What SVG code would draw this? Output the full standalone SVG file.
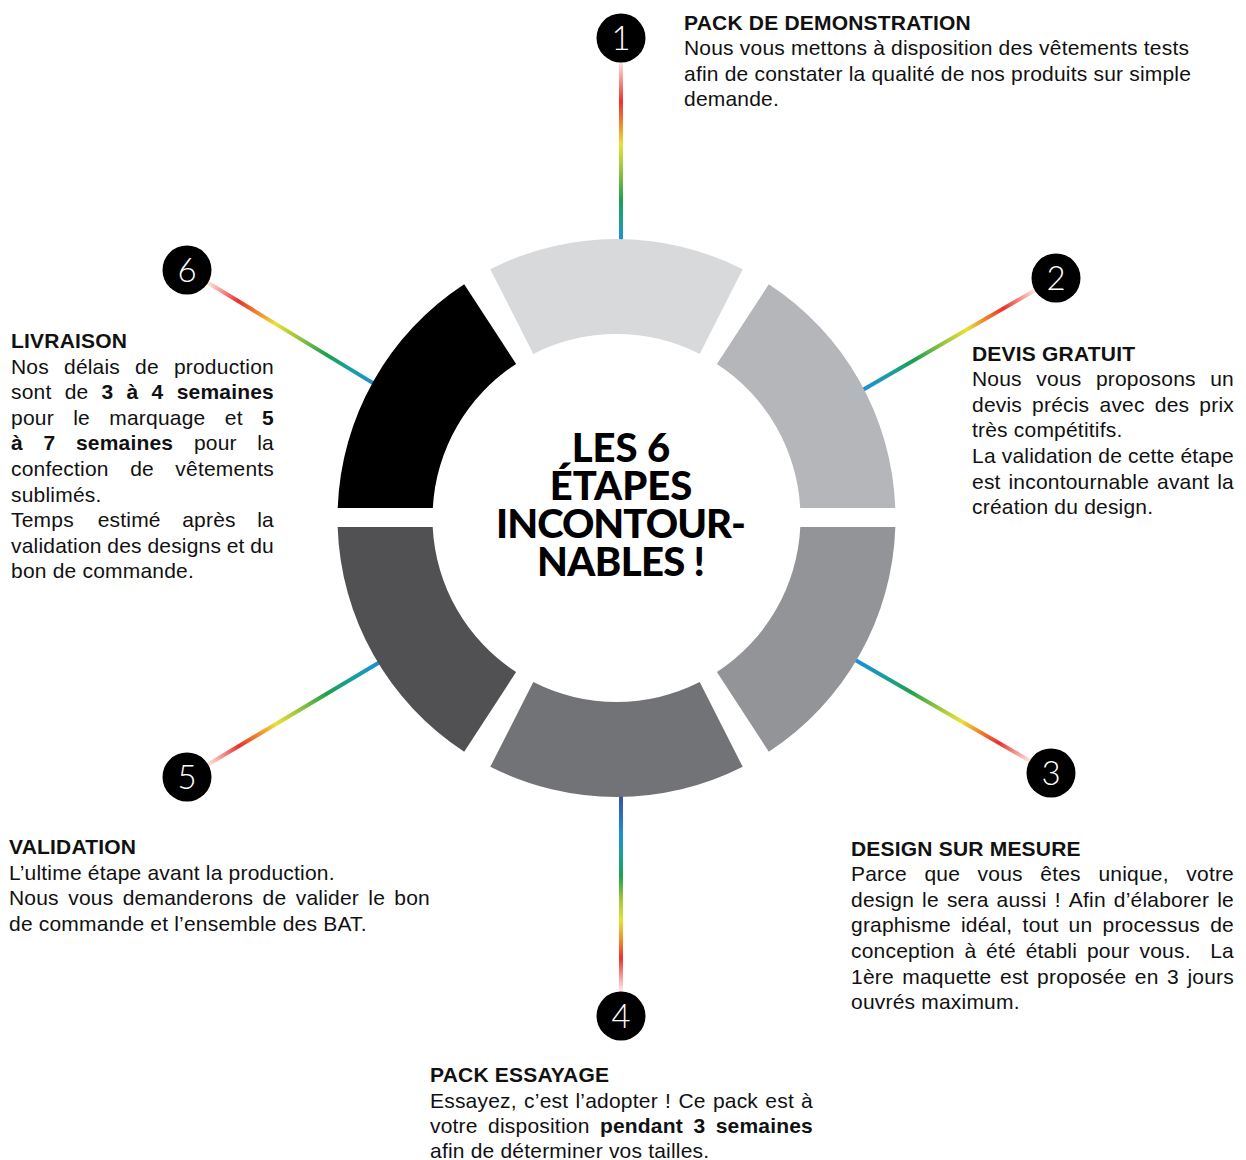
<svg xmlns="http://www.w3.org/2000/svg" width="1246" height="1160" viewBox="0 0 1246 1160">
<defs>
<style>
.h{font-family:'Liberation Sans',Arial,sans-serif;font-size:21px;font-weight:bold;letter-spacing:0.2px;fill:#111}
.b{font-family:'Liberation Sans',Arial,sans-serif;font-size:21px;letter-spacing:0.2px;fill:#111}
.e{text-anchor:end}
.k{font-weight:bold}
.num{font-family:Lato,Roboto,'Liberation Sans',sans-serif;font-weight:300;font-size:33px;fill:#fff;text-anchor:middle}
.dot{fill:#000}
.ttl{font-family:Lato,'Liberation Sans',sans-serif;font-weight:900;font-size:40px;fill:#000;text-anchor:middle}
.ln{fill:none;stroke-width:4}
</style>
<linearGradient id="gA" gradientUnits="userSpaceOnUse" x1="0" y1="0" x2="220" y2="0">
<stop offset="0" stop-color="#fde8e2"/>
<stop offset="0.115" stop-color="#fde3dc"/>
<stop offset="0.273" stop-color="#e8322e"/>
<stop offset="0.38" stop-color="#f1892c"/>
<stop offset="0.47" stop-color="#e7e236"/>
<stop offset="0.59" stop-color="#9bc53f"/>
<stop offset="0.74" stop-color="#1ea04e"/>
<stop offset="0.86" stop-color="#18a097"/>
<stop offset="1" stop-color="#1e8fd6"/>
</linearGradient>
<linearGradient id="gB" gradientUnits="userSpaceOnUse" x1="0" y1="0" x2="205" y2="0">
<stop offset="0" stop-color="#fde8e2"/>
<stop offset="0.12" stop-color="#fde3dc"/>
<stop offset="0.31" stop-color="#e8322e"/>
<stop offset="0.42" stop-color="#f1892c"/>
<stop offset="0.52" stop-color="#e7e236"/>
<stop offset="0.64" stop-color="#9bc53f"/>
<stop offset="0.79" stop-color="#1ea04e"/>
<stop offset="0.89" stop-color="#18a097"/>
<stop offset="1" stop-color="#1e8fd6"/>
</linearGradient>
<linearGradient id="gC" gradientUnits="userSpaceOnUse" x1="0" y1="0" x2="222" y2="0">
<stop offset="0" stop-color="#fde8e2"/>
<stop offset="0.12" stop-color="#fde3dc"/>
<stop offset="0.26" stop-color="#e8322e"/>
<stop offset="0.34" stop-color="#f1892c"/>
<stop offset="0.43" stop-color="#e7e236"/>
<stop offset="0.53" stop-color="#9bc53f"/>
<stop offset="0.63" stop-color="#1ea04e"/>
<stop offset="0.72" stop-color="#18a097"/>
<stop offset="0.82" stop-color="#1e8fd6"/>
<stop offset="1" stop-color="#3a4c9f"/>
</linearGradient>
</defs>
<rect width="1246" height="1160" fill="#fff"/>

<g id="connectors">
<g transform="translate(621,38) rotate(90)"><line class="ln" x1="0" y1="0" x2="207" y2="0" stroke="url(#gB)"/></g>
<g transform="translate(1056,278) rotate(149.9)"><line class="ln" x1="0" y1="0" x2="232" y2="0" stroke="url(#gA)"/></g>
<g transform="translate(1051,773) rotate(210)"><line class="ln" x1="0" y1="0" x2="232" y2="0" stroke="url(#gA)"/></g>
<g transform="translate(621,1016) rotate(-90)"><line class="ln" x1="0" y1="0" x2="224" y2="0" stroke="url(#gC)"/></g>
<g transform="translate(187,777) rotate(-30.8)"><line class="ln" x1="0" y1="0" x2="230" y2="0" stroke="url(#gA)"/></g>
<g transform="translate(187,270) rotate(31.3)"><line class="ln" x1="0" y1="0" x2="226" y2="0" stroke="url(#gA)"/></g>
</g>

<g id="ring">
<path id="seg1" fill="#d8d9db" d="M490.3,269.2 A279,279 0 0 1 742.7,269.2 L699.7,353.9 A184,184 0 0 0 533.3,353.9 Z"/>
<path id="seg2" fill="#b5b6b9" d="M768.8,284.3 A279,279 0 0 1 895.3,508 L800.2,508 A184,184 0 0 0 716.9,363.9 Z"/>
<path id="seg3" fill="#939497" d="M895.35,527 A279,279 0 0 1 768.8,751.7 L716.9,672.1 A184,184 0 0 0 800.3,527 Z"/>
<path id="seg4" fill="#727376" d="M742.7,766.8 A279,279 0 0 1 490.3,766.8 L533.3,682.1 A184,184 0 0 0 699.7,682.1 Z"/>
<path id="seg5" fill="#515153" d="M464.2,751.7 A279,279 0 0 1 337.65,527 L432.7,527 A184,184 0 0 0 516.1,672.1 Z"/>
<path id="seg6" fill="#000000" d="M337.7,508 A279,279 0 0 1 464.2,284.3 L516.1,363.9 A184,184 0 0 0 432.8,508 Z"/>
</g>

<g id="center">
<text class="ttl" x="621" y="462">LES 6</text>
<text class="ttl" x="621" y="500">ÉTAPES</text>
<text class="ttl" x="621" y="538" textLength="250" lengthAdjust="spacing">INCONTOUR-</text>
<text class="ttl" x="621" y="576" textLength="168" lengthAdjust="spacing">NABLES !</text>
</g>

<g id="node1">
<circle class="dot" cx="621" cy="38" r="24.5"/>
<text class="num" x="621" y="50">1</text>
<text class="h" x="684" y="29.5">PACK DE DEMONSTRATION</text>
<text class="b" x="684" y="55">Nous vous mettons à disposition des vêtements tests</text>
<text class="b" x="684" y="80.6">afin de constater la qualité de nos produits sur simple</text>
<text class="b" x="684" y="106.2">demande.</text>
</g>

<g id="node2">
<circle class="dot" cx="1056" cy="278" r="24.5"/>
<text class="num" x="1056" y="290">2</text>
<text class="h" x="972" y="360.5">DEVIS GRATUIT</text>
<text class="b" y="386.1"><tspan x="972">Nous</tspan><tspan x="1036.3">vous</tspan><tspan x="1095.9">proposons</tspan></text>
<text class="b e" x="1234" y="386.1">un</text>
<text class="b" y="411.7"><tspan x="972">devis</tspan><tspan x="1032.1">précis</tspan><tspan x="1099.5">avec</tspan><tspan x="1154.8">des</tspan></text>
<text class="b e" x="1234" y="411.7">prix</text>
<text class="b" x="972" y="437.3">très compétitifs.</text>
<text class="b" y="462.9"><tspan x="972">La</tspan><tspan x="1001.7">validation</tspan><tspan x="1098.3">de</tspan><tspan x="1128">cette</tspan></text>
<text class="b e" x="1234" y="462.9">étape</text>
<text class="b" y="488.5"><tspan x="972">est</tspan><tspan x="1008.5">incontournable</tspan><tspan x="1157">avant</tspan></text>
<text class="b e" x="1234" y="488.5">la</text>
<text class="b" x="972" y="514.1">création du design.</text>
</g>

<g id="node3">
<circle class="dot" cx="1051" cy="773" r="24.5"/>
<text class="num" x="1051" y="785">3</text>
<text class="h" x="851" y="855.5">DESIGN SUR MESURE</text>
<text class="b" y="881.1"><tspan x="851">Parce</tspan><tspan x="924.4">que</tspan><tspan x="977.6">vous</tspan><tspan x="1040.3">êtes</tspan><tspan x="1098.4">unique,</tspan></text>
<text class="b e" x="1234" y="881.1">votre</text>
<text class="b" y="906.7"><tspan x="851">design</tspan><tspan x="922.1">le</tspan><tspan x="946.9">sera</tspan><tspan x="996.6">aussi</tspan><tspan x="1054.7">!</tspan><tspan x="1068.8">Afin</tspan><tspan x="1113.8">d’élaborer</tspan></text>
<text class="b e" x="1234" y="906.7">le</text>
<text class="b" y="932.3"><tspan x="851">graphisme</tspan><tspan x="961">idéal,</tspan><tspan x="1022.6">tout</tspan><tspan x="1068.6">un</tspan><tspan x="1102.5">processus</tspan></text>
<text class="b e" x="1234" y="932.3">de</text>
<text class="b" y="957.9"><tspan x="851">conception</tspan><tspan x="964.4">à</tspan><tspan x="986.1">été</tspan><tspan x="1025.7">établi</tspan><tspan x="1086.9">pour</tspan><tspan x="1139.5">vous.</tspan></text>
<text class="b e" x="1234" y="957.9">La</text>
<text class="b" y="983.5"><tspan x="851">1ère</tspan><tspan x="902.3">maquette</tspan><tspan x="1000">est</tspan><tspan x="1037.1">proposée</tspan><tspan x="1134.8">en</tspan><tspan x="1167.1">3</tspan></text>
<text class="b e" x="1234" y="983.5">jours</text>
<text class="b" x="851" y="1009.1">ouvrés maximum.</text>
</g>

<g id="node4">
<circle class="dot" cx="621" cy="1016" r="24.5"/>
<text class="num" x="621" y="1028">4</text>
<text class="h" x="430" y="1082">PACK ESSAYAGE</text>
<text class="b" y="1107.6"><tspan x="430">Essayez,</tspan><tspan x="524.1">c’est</tspan><tspan x="575.5">l’adopter</tspan><tspan x="665.1">!</tspan><tspan x="678.4">Ce</tspan><tspan x="712.9">pack</tspan><tspan x="765.3">est</tspan></text>
<text class="b e" x="813" y="1107.6">à</text>
<text class="b" y="1133.2"><tspan x="430">votre</tspan><tspan x="488.1">disposition</tspan><tspan class="k" x="599.9">pendant</tspan><tspan class="k" x="693.4">3</tspan></text>
<text class="b e k" x="813" y="1133.2">semaines</text>
<text class="b" x="430" y="1158">afin de déterminer vos tailles.</text>
</g>

<g id="node5">
<circle class="dot" cx="187" cy="777" r="24.5"/>
<text class="num" x="187" y="789">5</text>
<text class="h" x="9" y="854">VALIDATION</text>
<text class="b" x="9" y="879.6">L’ultime étape avant la production.</text>
<text class="b" y="905.2"><tspan x="9">Nous</tspan><tspan x="68.2">vous</tspan><tspan x="122.7">demanderons</tspan><tspan x="262.6">de</tspan><tspan x="295.7">valider</tspan><tspan x="368.3">le</tspan></text>
<text class="b e" x="430" y="905.2">bon</text>
<text class="b" x="9" y="930.8">de commande et l’ensemble des BAT.</text>
</g>

<g id="node6">
<circle class="dot" cx="187" cy="270" r="24.5"/>
<text class="num" x="187" y="282">6</text>
<text class="h" x="11" y="348">LIVRAISON</text>
<text class="b" y="373.6"><tspan x="11">Nos</tspan><tspan x="64">délais</tspan><tspan x="135.1">de</tspan></text>
<text class="b e" x="274" y="373.6">production</text>
<text class="b" y="399.2"><tspan x="11">sont</tspan><tspan x="64.7">de</tspan><tspan class="k" x="101.6">3</tspan><tspan class="k" x="126.6">à</tspan><tspan class="k" x="151.6">4</tspan></text>
<text class="b e k" x="274" y="399.2">semaines</text>
<text class="b" y="424.8"><tspan x="11">pour</tspan><tspan x="73.2">le</tspan><tspan x="109.3">marquage</tspan><tspan x="224.8">et</tspan></text>
<text class="b e k" x="274" y="424.8">5</text>
<text class="b" y="450.4"><tspan class="k" x="11">à</tspan><tspan class="k" x="43.5">7</tspan><tspan class="k" x="75.9">semaines</tspan><tspan x="193.9">pour</tspan></text>
<text class="b e" x="274" y="450.4">la</text>
<text class="b" y="476"><tspan x="11">confection</tspan><tspan x="130.2">de</tspan></text>
<text class="b e" x="274" y="476">vêtements</text>
<text class="b" x="11" y="501.6">sublimés.</text>
<text class="b" y="527.2"><tspan x="11">Temps</tspan><tspan x="97.7">estimé</tspan><tspan x="182.2">après</tspan></text>
<text class="b e" x="274" y="527.2">la</text>
<text class="b" y="552.8"><tspan x="11">validation</tspan><tspan x="107.3">des</tspan><tspan x="147.4">designs</tspan><tspan x="226.7">et</tspan></text>
<text class="b e" x="274" y="552.8">du</text>
<text class="b" x="11" y="578.4">bon de commande.</text>
</g>
</svg>
